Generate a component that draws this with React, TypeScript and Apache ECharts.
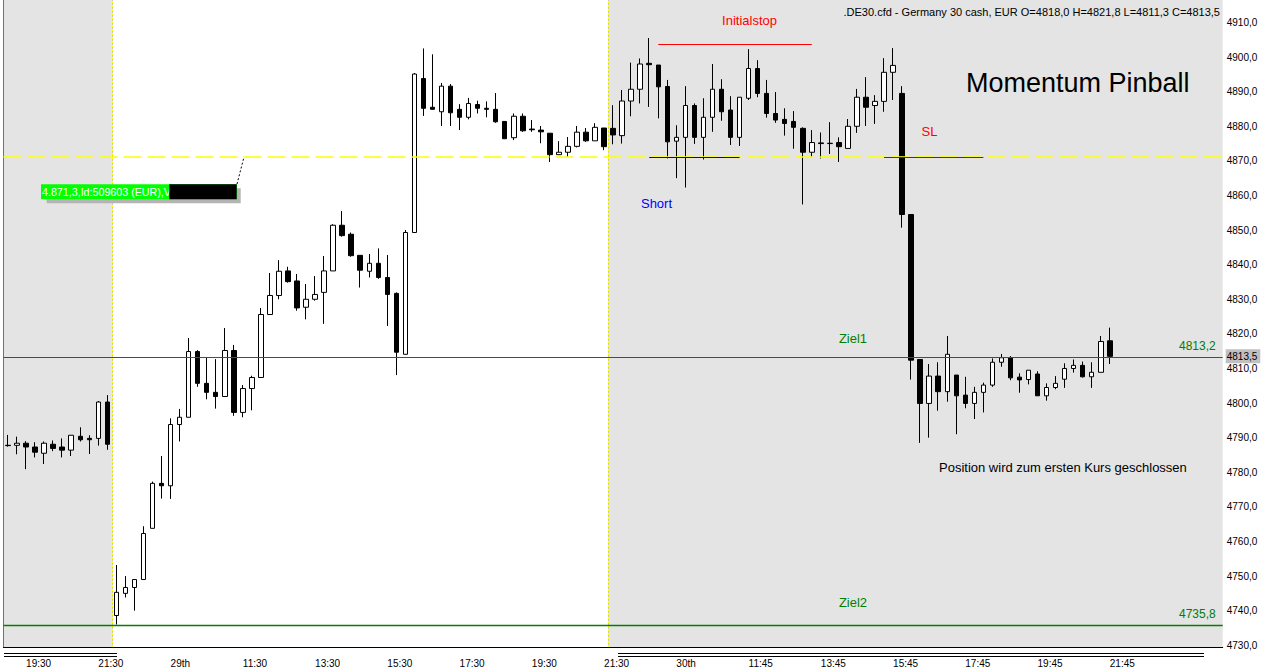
import { useEffect, useRef } from 'react';
import * as echarts from 'echarts';

// 15 minute bars, DE30 cfd, three trading days
const SESSIONS = [
  { day: 28, start: 19 * 60, bars: 12 },
  { day: 29, start: 8 * 60, bars: 55 },
  { day: 30, start: 8 * 60, bars: 56 },
];
const SHADED_DAYS = [28, 30];
const EMPTY_SLOTS = 12; // free room right of the last bar

const OPEN = [
  4787.8, 4787.8, 4788.4, 4787.3, 4785.5, 4788.1, 4787.3, 4786.4, 4790.4, 4789.8, 4789.8, 4800.3,
  4738.6, 4745.0, 4746.7, 4749.0, 4763.8, 4776.8, 4776.1, 4793.8, 4795.9, 4814.9, 4805.7, 4803.1,
  4801.9, 4815.2, 4797.3, 4804.2, 4807.4, 4825.6, 4831.1, 4838.2, 4835.3, 4827.7, 4830.0, 4832.0,
  4838.2, 4851.4, 4848.8, 4842.7, 4838.1, 4840.4, 4836.3, 4831.7, 4814.1, 4849.3, 4893.8, 4885.5,
  4884.2, 4891.6, 4884.9, 4882.6, 4886.3, 4885.2, 4884.9, 4881.4, 4876.7, 4882.9, 4879.2, 4878.9,
  4878.0, 4871.8, 4872.5, 4874.2, 4878.3, 4875.8, 4879.5,
  4879.4, 4877.3, 4887.3, 4890.7, 4898.2, 4897.7, 4891.5, 4875.7, 4876.8, 4886.0, 4876.8, 4882.6,
  4890.7, 4884.7, 4876.8, 4888.1, 4896.7, 4889.5, 4883.7, 4882.0, 4881.4, 4879.4, 4872.5, 4875.2,
  4875.0, 4875.3, 4873.6, 4880.0, 4888.4, 4886.0, 4887.2, 4895.6, 4889.5, 4854.5, 4812.6, 4799.9,
  4807.8, 4803.3, 4808.1, 4802.3, 4799.9, 4803.1, 4805.2, 4811.8, 4813.1, 4807.5, 4806.8, 4808.4,
  4802.1, 4804.5, 4806.9, 4810.0, 4810.9, 4807.6, 4808.9, 4818.0,
];
const CLOSE = [
  4787.7, 4788.4, 4787.3, 4785.8, 4788.4, 4786.9, 4786.4, 4790.7, 4789.4, 4789.4, 4800.3, 4788.1,
  4745.3, 4746.7, 4749.0, 4762.3, 4776.8, 4776.1, 4793.8, 4795.9, 4814.9, 4805.7, 4803.1, 4801.9,
  4815.2, 4797.3, 4804.2, 4807.4, 4825.6, 4831.1, 4838.1, 4835.1, 4827.5, 4830.0, 4831.4, 4838.2,
  4851.4, 4848.4, 4842.6, 4838.4, 4840.4, 4836.3, 4831.4, 4814.7, 4849.3, 4895.1, 4885.2, 4884.9,
  4891.6, 4883.9, 4882.6, 4886.6, 4885.2, 4884.9, 4881.3, 4876.4, 4882.9, 4878.7, 4879.0, 4878.4,
  4871.8, 4872.5, 4874.2, 4878.3, 4875.8, 4879.7, 4874.1,
  4877.5, 4887.3, 4890.7, 4898.0, 4897.8, 4891.4, 4875.5, 4876.8, 4886.0, 4876.8, 4882.6, 4890.7,
  4884.2, 4876.8, 4888.4, 4896.7, 4889.5, 4883.7, 4881.8, 4880.8, 4879.7, 4872.5, 4875.3, 4875.0,
  4875.1, 4874.1, 4880.0, 4888.4, 4885.5, 4887.2, 4895.6, 4897.6, 4854.5, 4812.4, 4799.9, 4807.8,
  4803.3, 4814.1, 4802.1, 4799.9, 4803.1, 4805.2, 4811.8, 4813.1, 4807.3, 4806.7, 4809.5, 4802.1,
  4804.5, 4805.7, 4810.0, 4810.9, 4807.6, 4808.9, 4817.8, 4813.5,
];
const LOW = [
  4787.4, 4785.2, 4780.9, 4784.3, 4782.4, 4786.1, 4784.3, 4784.7, 4788.9, 4785.3, 4787.7, 4786.5,
  4736.0, 4743.8, 4740.0, 4749.0, 4763.8, 4772.4, 4772.3, 4788.9, 4795.9, 4804.7, 4801.1, 4798.4,
  4801.9, 4796.3, 4795.9, 4797.9, 4807.4, 4825.6, 4830.0, 4834.8, 4826.7, 4824.2, 4829.6, 4822.9,
  4838.2, 4848.1, 4842.3, 4833.4, 4836.3, 4835.9, 4822.3, 4808.1, 4814.0, 4849.3, 4883.0, 4884.9,
  4880.1, 4880.1, 4878.9, 4882.0, 4883.7, 4882.6, 4881.0, 4876.4, 4876.0, 4878.4, 4878.4, 4875.1,
  4869.7, 4871.8, 4871.2, 4873.9, 4875.5, 4875.8, 4873.1,
  4874.8, 4875.0, 4882.9, 4886.6, 4885.6, 4882.3, 4870.7, 4865.0, 4862.3, 4874.9, 4870.4, 4878.4,
  4881.6, 4874.6, 4874.3, 4887.6, 4888.4, 4882.5, 4881.0, 4877.3, 4873.5, 4857.4, 4871.2, 4870.7,
  4872.0, 4869.7, 4873.6, 4878.1, 4880.1, 4880.7, 4884.2, 4887.6, 4850.7, 4806.8, 4788.5, 4790.0,
  4797.8, 4800.4, 4791.0, 4798.5, 4795.4, 4797.3, 4804.7, 4810.5, 4806.6, 4803.0, 4805.4, 4802.1,
  4800.7, 4804.0, 4804.4, 4808.8, 4807.4, 4804.4, 4808.9, 4811.3,
];
const HIGH = [
  4790.8, 4790.3, 4789.0, 4788.7, 4788.9, 4789.2, 4789.8, 4790.7, 4793.0, 4790.7, 4800.6, 4802.3,
  4753.2, 4750.0, 4749.0, 4764.4, 4777.3, 4784.7, 4795.6, 4798.3, 4818.8, 4815.3, 4813.1, 4812.7,
  4821.7, 4816.8, 4805.2, 4807.9, 4827.5, 4837.6, 4841.3, 4839.4, 4837.3, 4834.4, 4836.7, 4842.5,
  4851.7, 4855.5, 4849.3, 4842.7, 4843.1, 4844.7, 4842.8, 4832.0, 4850.0, 4895.4, 4902.5, 4900.8,
  4892.5, 4892.2, 4886.4, 4888.2, 4887.4, 4887.2, 4889.6, 4881.4, 4883.7, 4883.7, 4881.8, 4880.1,
  4878.0, 4875.7, 4876.9, 4880.1, 4879.5, 4880.9, 4879.5,
  4886.1, 4890.5, 4898.4, 4899.6, 4905.5, 4897.7, 4893.4, 4880.3, 4891.6, 4886.6, 4888.1, 4898.0,
  4893.6, 4888.7, 4888.4, 4902.3, 4899.1, 4893.4, 4889.9, 4885.2, 4884.4, 4879.7, 4878.9, 4878.2,
  4881.2, 4876.8, 4882.1, 4890.8, 4894.2, 4889.0, 4899.7, 4902.6, 4891.6, 4854.5, 4812.6, 4811.3,
  4811.8, 4819.4, 4808.1, 4807.6, 4804.7, 4805.9, 4812.9, 4814.2, 4813.6, 4808.6, 4809.5, 4809.2,
  4805.7, 4807.8, 4811.5, 4812.6, 4812.0, 4811.8, 4819.4, 4821.8,
];

// trade levels
const ENTRY = 4871.3;
const TARGET1 = 4813.2;
const TARGET2 = 4735.8;
const INITIAL_STOP = 4903.8;
const SHORT_LEVEL = 4871.0;
const SL_LEVEL = 4871.0;
const INITIAL_STOP_BARS = [72, 89];
const SHORT_BARS = [71, 81];
const SL_BARS = [97, 108];

const Y_MIN = 4729.5;
const Y_MAX = 4916.5;

const pad = (n: number) => String(n).padStart(2, '0');
const CATEGORIES: string[] = [];
const SESSION_RANGES: { day: number; from: number; to: number }[] = [];
SESSIONS.forEach((s) => {
  const from = CATEGORIES.length;
  for (let i = 0; i < s.bars; i++) {
    const m = s.start + i * 15;
    CATEGORIES.push(`${s.day} ${pad(Math.floor(m / 60))}:${pad(m % 60)}`);
  }
  SESSION_RANGES.push({ day: s.day, from, to: CATEGORIES.length - 1 });
});
for (let i = 0; i < EMPTY_SLOTS; i++) CATEGORIES.push('');
const TOTAL = CATEGORIES.length;

const price = (v: number) => v.toFixed(1).replace('.', ',');
const FONT = '"Liberation Sans", Arial, sans-serif';
const AXIS_FONT = '"Liberation Sans Narrow", "Liberation Sans", sans-serif';
const GRAY = '#e4e4e4';
const GREEN = '#008000';

function buildOption(): echarts.EChartsOption {
  const last = CLOSE.length - 1;
  const lastSession = SESSION_RANGES[SESSION_RANGES.length - 1];

  const shaded = SESSION_RANGES.filter((r) => SHADED_DAYS.includes(r.day)).map((r) => [
    { xAxis: r.from - 0.5 },
    { xAxis: r === lastSession ? TOTAL - 0.5 : r.to + 0.5 },
  ]);
  const separators = SESSION_RANGES.slice(1).map((r) => r.from - 0.5);

  const segment = (bars: number[], level: number, color: string) => [
    { coord: [bars[0], level], lineStyle: { color, width: 1, type: 'solid' } },
    { coord: [bars[1], level], lineStyle: { color, width: 1, type: 'solid' } },
  ];

  const targetLine = (v: number, width: number) => ({
    yAxis: v,
    lineStyle: { color: GREEN, width, type: 'solid', opacity: 1 },
    label: {
      show: true,
      position: 'insideEndTop',
      formatter: price(v),
      color: GREEN,
      fontSize: 12,
      fontFamily: FONT,
      distance: [7, 5],
    },
  });

  const text = (t: string, x: number, y: number, fill: string, size: number, align = 'center') => ({
    type: 'text',
    x,
    y,
    silent: true,
    z: 50,
    style: { text: t, fill, font: `${size}px ${FONT}`, textAlign: align, textVerticalAlign: 'middle' },
  });

  return {
    animation: false,
    backgroundColor: '#ffffff',
    grid: { left: 3.5, right: 40.3, top: 0, bottom: 22 },
    xAxis: [
      {
        type: 'category',
        data: CATEGORIES,
        boundaryGap: true,
        axisLine: { show: true, lineStyle: { color: '#000', width: 1 } },
        axisTick: { show: false },
        splitLine: { show: false },
        axisLabel: {
          interval: (i: number) => i % 8 === 2 && CATEGORIES[i] !== '',
          formatter: (v: string, i: number) => {
            const [d, t] = v.split(' ');
            const prev = CATEGORIES[i - 8];
            return prev && prev.split(' ')[0] !== d ? `${d}th` : t;
          },
          align: 'left',
          color: '#000',
          fontSize: 10,
          fontFamily: AXIS_FONT,
          margin: 11,
        },
      },
      { type: 'value', min: -0.5, max: TOTAL - 0.5, show: false },
    ],
    yAxis: [
      {
        type: 'value',
        position: 'right',
        min: Y_MIN,
        max: Y_MAX,
        splitNumber: 18,
        minInterval: 10,
        maxInterval: 10,
        axisLine: { show: true, lineStyle: { color: '#000', width: 1 } },
        axisTick: { show: false },
        splitLine: { show: false },
        axisLabel: {
          showMinLabel: false,
          showMaxLabel: false,
          color: '#000',
          fontSize: 10,
          fontFamily: AXIS_FONT,
          margin: 4,
          formatter: (v: number) => (Math.abs(v / 10 - Math.round(v / 10)) < 1e-6 ? price(v) : ''),
        },
      },
      {
        type: 'value',
        position: 'left',
        min: Y_MIN,
        max: Y_MAX,
        axisLine: { show: true, onZero: false, lineStyle: { color: '#000', width: 1 } },
        axisTick: { show: false },
        axisLabel: { show: false },
        splitLine: { show: false },
      },
    ],
    series: [
      {
        // day shading, session separators and full width levels
        type: 'line',
        xAxisIndex: 1,
        yAxisIndex: 0,
        data: [],
        silent: true,
        clip: false,
        z: 1,
        markArea: { silent: true, itemStyle: { color: GRAY }, data: shaded as any },
        markLine: {
          silent: true,
          symbol: ['none', 'none'],
          label: { show: false },
          data: [
            ...separators.map((x) => ({ xAxis: x, lineStyle: { color: '#c8c8c8', width: 1, type: 'solid' } })),
            ...separators.map((x) => ({ xAxis: x, lineStyle: { color: '#ffff00', width: 1, type: [2, 2] } })),
            targetLine(TARGET1, 1),
            targetLine(TARGET2, 1.4),
            {
              yAxis: CLOSE[last],
              lineStyle: { color: 'rgba(0,0,0,0)', width: 0 },
              label: {
                show: true,
                position: 'end',
                formatter: price(CLOSE[last]),
                color: '#000',
                backgroundColor: '#c0c0c0',
                padding: [2, 3, 2, 1],
                fontSize: 10,
                fontFamily: AXIS_FONT,
                distance: 3,
              },
            },
          ] as any,
        },
      },
      {
        type: 'candlestick',
        z: 3,
        barWidth: 5,
        data: OPEN.map((o, i) => [o, CLOSE[i], LOW[i], HIGH[i]]),
        itemStyle: { color: '#ffffff', color0: '#000000', borderColor: '#000000', borderColor0: '#000000', borderWidth: 1 },
        emphasis: { disabled: true },
        markLine: {
          silent: true,
          symbol: ['none', 'none'],
          label: { show: false },
          data: [
            { yAxis: ENTRY, lineStyle: { color: '#ffff00', width: 1.5, type: [18, 6] } },
            segment(INITIAL_STOP_BARS, INITIAL_STOP, '#ff0000'),
            segment(SHORT_BARS, SHORT_LEVEL, '#0000c0'),
            segment(SL_BARS, SL_LEVEL, '#c00000'),
          ] as any,
        },
      },
    ],
    graphic: [
      text('.DE30.cfd - Germany 30 cash, EUR O=4818,0 H=4821,8 L=4811,3 C=4813,5', 1220, 12, '#000', 11, 'right'),
      text('Momentum Pinball', 966, 83, '#000', 27, 'left'),
      text('Initialstop', 749.5, 20, '#ff0000', 13),
      text('Short', 656.5, 203, '#0000ff', 13),
      text('SL', 929.5, 131, '#ff0000', 13),
      text('Ziel1', 853, 338, GREEN, 13),
      text('Ziel2', 853, 602, GREEN, 13),
      text('Position wird zum ersten Kurs geschlossen', 939, 467, '#000', 13, 'left'),
      // order ticket label
      { type: 'rect', z: 40, silent: true, shape: { x: 46.7, y: 188.3, width: 194, height: 15 }, style: { fill: '#b4b4b4' } },
      { type: 'rect', z: 41, silent: true, shape: { x: 41, y: 184.3, width: 196, height: 15 }, style: { fill: '#00ff00' } },
      text('4.871,3,Id:509603 (EUR),V', 42, 192, '#ffffff', 10.7, 'left'),
      { type: 'rect', z: 60, silent: true, shape: { x: 169.3, y: 184.3, width: 67.4, height: 15 }, style: { fill: '#000000' } },
      { type: 'line', z: 60, silent: true, shape: { x1: 237, y1: 184, x2: 244, y2: 157 }, style: { stroke: '#000', lineWidth: 1, lineDash: [2, 2] } },
      // session bars under the time axis
      { type: 'line', silent: true, shape: { x1: 4, y1: 653.5, x2: 117, y2: 653.5 }, style: { stroke: '#000', lineWidth: 1 } },
      { type: 'line', silent: true, shape: { x1: 4, y1: 656.5, x2: 117, y2: 656.5 }, style: { stroke: '#000', lineWidth: 1 } },
      { type: 'line', silent: true, shape: { x1: 618, y1: 653.5, x2: 1204, y2: 653.5 }, style: { stroke: '#000', lineWidth: 1 } },
      { type: 'line', silent: true, shape: { x1: 618, y1: 656.5, x2: 1204, y2: 656.5 }, style: { stroke: '#000', lineWidth: 1 } },
    ] as any,
  };
}

export default function App() {
  const containerRef = useRef<HTMLDivElement | null>(null);

  useEffect(() => {
    document.body.style.margin = '0';
    if (!containerRef.current) return;
    const chart = echarts.init(containerRef.current, undefined, { renderer: 'svg' });
    chart.setOption(buildOption());
    return () => {
      chart.dispose();
    };
  }, []);

  return <div ref={containerRef} style={{ width: 1263, height: 669 }} />;
}
